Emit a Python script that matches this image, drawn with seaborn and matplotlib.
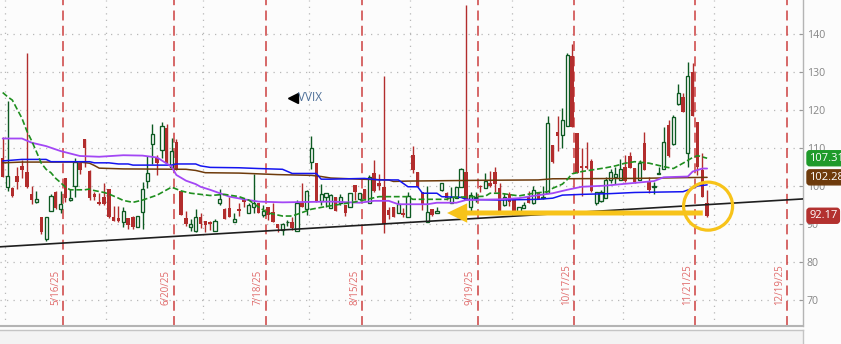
import numpy as np
import pandas as pd
import matplotlib
matplotlib.use("Agg")
import matplotlib.pyplot as plt
import matplotlib.transforms as mtransforms
from matplotlib.patches import Ellipse
import seaborn as sns

sns.set_style("white")
plt.rcParams["font.family"] = ["Open Sans", "DejaVu Sans"]

# ---------------- data ----------------
opens = [107.3, 99.8, 99.4, 102.6, 105.3, 103.6, 97.9, 95.9, 91.9, 86.0,
         93.5, 98.3, 93.9, 102.0, 96.3, 100.0, 106.1, 112.5, 104.0, 97.9,
         95.8, 97.2, 99.2, 91.8, 91.5, 90.4, 91.5, 91.9, 89.1, 93.1,
         101.4, 111.0, 107.5, 109.5, 115.3, 104.9, 111.6, 98.7, 91.6, 89.3,
         88.2, 91.8, 90.8, 90.4, 88.2, 95.6, 94.0, 94.3, 90.6, 94.0,
         96.5, 93.0, 94.6, 95.4, 92.5, 94.4, 93.1, 90.0, 88.3, 90.4,
         90.4, 88.2, 95.6, 93.9, 106.3, 106.1, 96.1, 97.0, 94.1, 97.0,
         95.6, 95.0, 94.4, 100.3, 96.5, 99.1, 95.4, 103.3, 100.9, 99.7,
         93.7, 94.6, 93.0, 92.8, 91.9, 108.2, 103.8, 98.5, 90.6, 93.9,
         93.0, 99.0, 98.1, 95.6, 96.8, 99.8, 103.6, 94.6, 96.8, 100.0,
         99.4, 100.9, 103.8, 99.4, 95.0, 97.9, 96.8, 93.2, 94.1, 97.2,
         95.6, 98.5, 96.8, 98.1, 110.8, 114.1, 113.4, 115.8, 134.2, 113.9,
         105.3, 105.3, 106.6, 95.4, 96.1, 96.8, 101.7, 102.3, 101.6, 105.1,
         107.9, 104.7, 101.7, 111.2, 101.1, 99.7, 103.1, 104.4, 116.0, 111.1,
         121.7, 123.3, 108.6, 130.1, 116.9, 104.2, 95.6]
highs = [113.0, 122.4, 99.8, 105.1, 106.9, 134.9, 100.0, 98.7, 91.9, 91.8,
         97.8, 98.7, 98.8, 102.0, 99.3, 107.3, 106.3, 112.5, 104.2, 98.5,
         98.1, 100.9, 99.2, 94.7, 94.7, 94.5, 91.5, 92.1, 92.2, 101.0,
         108.0, 116.3, 108.1, 116.9, 116.3, 112.6, 112.3, 98.7, 93.3, 91.3,
         94.0, 93.0, 90.8, 90.7, 91.2, 99.1, 94.3, 97.2, 92.8, 95.6,
         96.5, 95.6, 103.2, 95.4, 95.0, 94.4, 95.4, 90.0, 90.2, 91.1,
         91.9, 96.3, 100.9, 99.0, 113.1, 106.1, 100.5, 98.1, 97.9, 97.2,
         97.9, 95.0, 98.2, 100.3, 98.1, 99.1, 102.9, 106.8, 103.2, 129.0,
         94.6, 94.6, 96.3, 94.1, 98.5, 110.4, 103.8, 98.5, 100.0, 93.9,
         94.6, 100.9, 98.3, 99.8, 99.7, 104.7, 147.6, 98.5, 98.5, 100.3,
         103.3, 104.0, 105.1, 100.7, 98.1, 98.5, 96.8, 94.4, 95.9, 98.8,
         100.0, 98.5, 100.0, 118.4, 110.8, 118.3, 120.4, 134.9, 137.4, 113.9,
         109.9, 111.7, 107.0, 98.5, 99.0, 102.4, 104.5, 105.1, 107.0, 108.2,
         109.0, 104.7, 106.9, 114.3, 102.4, 101.1, 105.1, 115.6, 117.4, 118.7,
         126.8, 124.4, 132.7, 132.4, 116.9, 108.6, 99.0]
lows = [102.3, 98.8, 97.0, 99.1, 102.0, 99.6, 95.2, 95.6, 87.4, 85.4,
        93.3, 94.0, 92.8, 95.7, 96.1, 97.0, 103.2, 105.1, 96.2, 96.3,
        95.0, 95.0, 91.6, 90.8, 90.6, 89.1, 88.6, 88.8, 89.1, 88.6,
        99.4, 105.8, 102.8, 107.5, 106.1, 104.5, 104.1, 92.4, 89.5, 88.2,
        87.9, 88.9, 87.9, 88.4, 88.2, 95.0, 91.2, 91.9, 90.4, 92.2,
        94.6, 93.0, 93.0, 92.8, 91.9, 91.1, 90.6, 88.0, 87.1, 89.4,
        88.4, 88.2, 94.4, 92.5, 104.4, 95.9, 95.0, 94.6, 94.1, 93.3,
        95.0, 92.1, 94.4, 96.3, 96.3, 96.3, 95.4, 98.5, 99.0, 87.7,
        91.2, 91.8, 93.0, 91.9, 91.9, 103.5, 99.8, 93.7, 90.4, 92.1,
        92.8, 98.8, 96.3, 95.6, 96.8, 99.8, 96.3, 93.5, 95.9, 98.5,
        99.4, 99.8, 98.5, 93.5, 94.8, 94.8, 93.0, 93.2, 94.1, 95.4,
        95.3, 96.5, 96.5, 98.1, 106.1, 109.3, 109.9, 115.8, 115.6, 103.3,
        97.4, 104.4, 98.5, 95.0, 95.9, 96.8, 100.7, 100.4, 101.6, 101.1,
        104.7, 100.9, 101.7, 104.2, 98.1, 98.0, 103.1, 104.4, 107.7, 110.8,
        121.3, 119.6, 105.1, 118.3, 102.9, 97.0, 91.8]
closes = [102.5, 102.6, 97.4, 101.1, 104.2, 99.8, 96.3, 96.6, 88.0, 91.8,
          97.4, 94.3, 95.3, 96.8, 96.8, 106.2, 104.2, 109.9, 96.8, 97.2,
          95.3, 95.3, 91.9, 90.8, 90.8, 93.4, 89.7, 89.1, 92.2, 99.1,
          103.3, 113.7, 106.1, 115.8, 106.1, 109.1, 104.4, 92.5, 89.9, 90.0,
          91.9, 89.9, 89.7, 90.0, 90.8, 96.5, 91.4, 91.9, 91.2, 93.5,
          95.8, 95.0, 95.6, 93.0, 93.4, 92.5, 90.6, 88.9, 90.0, 90.6,
          88.9, 95.6, 94.6, 98.7, 109.9, 95.9, 97.8, 98.1, 97.6, 93.3,
          97.2, 93.0, 98.2, 98.3, 98.1, 96.6, 102.3, 98.8, 100.0, 90.0,
          92.4, 91.8, 95.3, 92.3, 97.4, 104.1, 99.8, 95.3, 93.2, 92.4,
          93.4, 100.7, 96.8, 97.0, 99.7, 104.4, 96.3, 97.6, 97.2, 99.7,
          101.4, 100.1, 100.4, 93.5, 97.0, 95.9, 93.2, 94.4, 95.0, 95.4,
          99.0, 96.5, 97.2, 116.5, 106.4, 113.2, 117.5, 134.5, 115.6, 103.3,
          104.7, 104.7, 98.7, 98.3, 98.3, 101.7, 103.8, 103.2, 104.6, 101.4,
          104.7, 101.1, 106.0, 104.2, 98.9, 99.9, 103.5, 111.5, 107.9, 118.1,
          124.4, 119.6, 129.0, 118.3, 105.1, 97.0, 92.17]

# moving-average studies, read at bar positions
ma_green_bar = [0, 1, 2, 3, 4, 5, 6, 7, 8, 9, 10, 11, 12, 13, 14, 17, 18, 19, 21, 22,
                24, 25, 27, 29, 32, 34, 35, 37, 39, 43, 46, 49, 51, 53, 55, 58, 60, 62,
                64, 67, 70, 73, 78, 84, 85, 92, 93, 100, 101, 103, 107, 110, 113, 114,
                116, 117, 118, 120, 123, 125, 127, 129, 131, 134, 137, 139, 141, 143,
                144, 146]
ma_green_val = [124.6, 123.5, 122.6, 120.2, 117.8, 114.5, 111.9, 109.0, 106.0, 104.4,
                103.5, 102.0, 100.9, 99.7, 99.0, 99.0, 99.2, 98.8, 98.3, 97.9,
                96.8, 96.2, 95.7, 96.3, 97.6, 99.0, 99.7, 98.7, 98.1, 97.5,
                97.8, 97.2, 96.3, 94.5, 92.9, 92.1, 92.1, 93.0, 93.9, 94.6,
                95.2, 95.8, 97.2, 97.2, 96.5, 96.5, 97.0, 97.3, 98.1, 98.1,
                97.4, 98.1, 98.5, 99.4, 100.5, 101.7, 103.2, 103.8, 104.4, 104.8,
                105.3, 106.0, 106.4, 106.0, 105.1, 104.6, 106.0, 107.5, 108.0, 107.31]
ma_purple_bar = [0, 4, 6, 9, 12, 16, 20, 25, 29, 32, 33, 35, 36, 38, 40, 41, 43, 45,
                 47, 50, 53, 58, 68, 74, 77, 80, 82, 88, 90, 94, 96, 103, 107, 110,
                 114, 117, 120, 125, 130, 135, 137, 142, 143, 145, 146]
ma_purple_val = [112.5, 112.5, 111.4, 110.5, 109.2, 107.9, 107.7, 108.1, 108.0, 107.5,
                 106.7, 105.1, 102.9, 101.4, 100.5, 99.8, 99.0, 98.1, 97.2, 96.5,
                 95.9, 95.7, 95.9, 95.6, 96.1, 96.1, 95.2, 95.2, 95.6, 95.6,
                 96.3, 96.5, 96.8, 97.4, 98.1, 99.0, 99.8, 100.1, 100.7, 101.3,
                 102.3, 102.5, 103.8, 104.6, 104.6]
ma_blue_bar = [0, 4, 9, 10, 18, 19, 22, 24, 26, 27, 35, 36, 40, 41, 43, 49, 53, 58,
               60, 65, 66, 68, 75, 78, 82, 84, 86, 87, 90, 91, 95, 96, 103, 111, 114,
               116, 120, 126, 131, 141, 143, 144, 146]
ma_blue_val = [106.6, 107.0, 107.0, 106.4, 106.4, 106.1, 106.1, 105.8, 105.8, 105.5,
               105.5, 105.8, 105.8, 105.3, 104.9, 104.8, 104.6, 104.4, 103.3, 103.3,
               101.8, 101.8, 102.0, 101.6, 101.6, 99.8, 99.8, 98.1, 98.1, 97.2,
               97.0, 96.5, 96.3, 96.5, 96.8, 97.6, 97.8, 98.0, 98.3, 98.5,
               99.4, 100.0, 100.3]
ma_brown_bar = [0, 4, 16, 18, 19, 20, 25, 38, 40, 42, 49, 57, 64, 66, 68, 74, 80, 81,
                84, 99, 111, 114, 131, 141, 146]
ma_brown_val = [106.1, 106.3, 106.3, 106.0, 105.4, 104.7, 104.5, 104.4, 104.1, 103.5,
                103.4, 103.0, 102.8, 102.5, 102.1, 101.8, 101.6, 101.2, 101.3, 101.5,
                101.6, 101.9, 102.0, 102.2, 102.28]

trend_values = [84.0, 96.6]          # hand-drawn support line, left/right edge
opex_dates = ["2025-05-16", "2025-06-20", "2025-07-18", "2025-08-15",
              "2025-09-19", "2025-10-17", "2025-11-21", "2025-12-19"]
opex_labels = ["5/16/25", "6/20/25", "7/18/25", "8/15/25",
               "9/19/25", "10/17/25", "11/21/25", "12/19/25"]
month_starts = ["2025-05-01", "2025-06-01", "2025-07-01", "2025-08-01",
                "2025-09-01", "2025-10-01", "2025-11-01", "2025-12-01"]
holidays = ["2025-05-26", "2025-06-19", "2025-07-04", "2025-09-01",
            "2025-11-27", "2025-12-25"]
y_ticks = [70, 80, 90, 100, 110, 120, 130, 140]
last_labels = [(107.31, "107.31", "#1f9a2a"), (102.28, "102.28", "#6e3b0c"),
               (92.17, "92.17", "#b3312f")]
arrow_level = 92.9
arrow_from_bar, arrow_to_bar = 145.1, 92.1
circle_bar, circle_level = 146.2, 94.7
vvix_bar, vvix_level = 60.1, 123.2

# ---------------- styling ----------------
BG = "#fcfcfc"
GREEN = "#0d5a22"
RED = "#b22d2d"
YELLOW = "#f7c31a"
GRID = "#b8b8b8"

cal = pd.bdate_range("2025-04-30", "2025-12-31", freq="C", holidays=holidays)
def bar_of(d):
    return int(cal.searchsorted(pd.Timestamp(d)))

fig = plt.figure(figsize=(8.41, 3.44), dpi=100, facecolor=BG)
ax = fig.add_axes([0, 18 / 344, 803 / 841, 326 / 344])
ax.set_facecolor(BG)
XMIN, XMAX = -0.557, 165.87
ax.set_xlim(XMIN, XMAX)
ax.set_ylim(63.16, 148.95)

# grid
for v in y_ticks:
    ax.axhline(v, color=GRID, lw=0.9, ls=(0, (1, 4.2)), zorder=0)
for d in month_starts:
    ax.axvline(bar_of(d) - 0.5, color=GRID, lw=0.9, ls=(0, (1, 4.2)), zorder=0)
for d, lab in zip(opex_dates, opex_labels):
    xp = bar_of(d) + 0.5
    ax.axvline(xp, color="#cc3f3f", lw=1.1, ls=(0, (6.5, 3.5)), zorder=1)
    ax.text(xp - 1.55, 68.7, lab, rotation=90, ha="center", va="bottom",
            fontsize=7, color="#e06a6a", zorder=1)

# candles
df = pd.DataFrame({"x": np.arange(len(closes)), "open": opens, "high": highs,
                   "low": lows, "close": closes})
up = df["close"] >= df["open"]
ax.vlines(df["x"], df["low"], df["high"],
          colors=[GREEN if u else RED for u in up], lw=1.0, zorder=2)
lo = np.minimum(df["open"], df["close"])
hgt = np.maximum((df["close"] - df["open"]).abs(), 0.25)
W = 0.66
ax.bar(df["x"][up], hgt[up], bottom=lo[up], width=W, facecolor=BG,
       edgecolor=GREEN, lw=0.95, zorder=3)
ax.bar(df["x"][~up], hgt[~up], bottom=lo[~up], width=W + 0.06, color=RED,
       lw=0, zorder=3)

# studies
sns.lineplot(x=ma_brown_bar, y=ma_brown_val, ax=ax, color="#6e3b0c", lw=1.1, zorder=4)
sns.lineplot(x=ma_blue_bar, y=ma_blue_val, ax=ax, color="#1414f0", lw=1.1, zorder=4)
sns.lineplot(x=ma_purple_bar, y=ma_purple_val, ax=ax, color="#a347f5", lw=1.3, zorder=4)
sns.lineplot(x=ma_green_bar, y=ma_green_val, ax=ax, color="#1f8f1f", lw=1.2, zorder=4)
ax.get_lines()[-1].set_dashes((3.5, 1.6))

# support line
sns.lineplot(x=[XMIN, XMAX], y=trend_values, ax=ax, color="#1e1e1e", lw=1.2, zorder=5)

# annotations
ax.annotate("", xy=(arrow_to_bar, arrow_level), xytext=(arrow_from_bar, arrow_level),
            arrowprops=dict(arrowstyle="simple,head_length=1.45,head_width=1.4,tail_width=0.36",
                            mutation_scale=10, color=YELLOW, lw=0, shrinkA=0, shrinkB=0),
            zorder=6)
ax.add_patch(Ellipse((circle_bar, circle_level), width=49 / 4.825, height=48 / 3.8,
                     fill=False, ec=YELLOW, lw=2.3, zorder=6))
ax.plot([vvix_bar], [vvix_level], marker="<", ms=7, color="black", zorder=6)
ax.text(vvix_bar + 1.1, vvix_level, "VVIX", ha="left", va="center",
        fontsize=8.5, color="#4d6f98", zorder=6)

# axes
ax.set_yticks(y_ticks)
ax.yaxis.tick_right()
ax.tick_params(axis="y", which="both", direction="in", length=2.6, width=0.8,
               color="#9a9a9a", labelsize=7.6, labelcolor="#858585", pad=2.6)
ax.set_xticks([])
for s in ["top", "left"]:
    ax.spines[s].set_visible(False)
ax.spines["right"].set_color("#b4b4b4")
ax.spines["right"].set_linewidth(1.0)
ax.spines["bottom"].set_color("#b4b4b4")
ax.spines["bottom"].set_linewidth(1.5)
trans = mtransforms.blended_transform_factory(ax.transAxes, ax.transData)
ax.text(1.0 + 4 / 803, 150, "150", transform=trans, fontsize=7.6, color="#858585",
        ha="left", va="center", clip_on=False)
for val, txt, col in last_labels:
    ax.text(1.0 + 6 / 803, val, txt, transform=trans, fontsize=8, color="white",
            ha="left", va="center", clip_on=False, zorder=7,
            bbox=dict(boxstyle="round,pad=0.18,rounding_size=0.25", fc=col, ec=col))

ax2 = fig.add_axes([0, 0, 803 / 841, 14 / 344])
ax2.set_facecolor("#f3f3f3")
ax2.set_xticks([]); ax2.set_yticks([])
for s in ["left", "bottom"]:
    ax2.spines[s].set_visible(False)
for s in ["top", "right"]:
    ax2.spines[s].set_color("#c4c4c4")
    ax2.spines[s].set_linewidth(1.0)

fig.savefig("out.png", dpi=100, facecolor=BG)
